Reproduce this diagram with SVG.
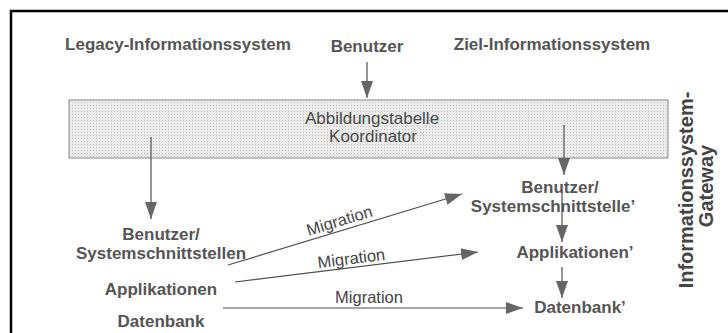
<svg xmlns="http://www.w3.org/2000/svg" width="728" height="333" viewBox="0 0 728 333">
<style>
.b{font-family:"Liberation Sans",Arial,sans-serif;font-weight:bold;font-size:17px;fill:#555;text-anchor:middle}
.n{font-family:"Liberation Sans",Arial,sans-serif;font-size:17px;fill:#4a4a4a;text-anchor:middle}
.m{font-family:"Liberation Sans",Arial,sans-serif;font-size:16.5px;fill:#444;text-anchor:middle}
.g{font-family:"Liberation Sans",Arial,sans-serif;font-weight:bold;font-size:20px;fill:#444;text-anchor:middle}
.c{stroke:#505050;stroke-width:1.2;fill:none;marker-end:url(#ah)}
</style>
<defs>
<marker id="ah" markerUnits="userSpaceOnUse" markerWidth="17" markerHeight="12" refX="17" refY="6" orient="auto">
<path d="M0,0 L17,6 L0,12 z" fill="#666"/>
</marker>
<pattern id="dots" width="3" height="3" patternUnits="userSpaceOnUse">
<rect width="3" height="3" fill="#ececec"/>
<rect width="1" height="1" fill="#c4c4c4"/>
</pattern>
</defs>
<rect width="728" height="333" fill="#fff"/>
<path d="M11,340 V11 H740" fill="none" stroke="#000" stroke-width="2.5"/>
<g id="legacy"><text class="b" x="178" y="50">Legacy-Informationssystem</text></g>
<g id="benutzer"><text class="b" x="367" y="52">Benutzer</text></g>
<g id="ziel"><text class="b" x="552" y="50">Ziel-Informationssystem</text></g>
<g id="abbildung">
<rect x="69" y="100" width="599" height="58" fill="url(#dots)" stroke="#888" stroke-width="1"/>
<text class="n" x="372" y="124">Abbildungstabelle</text>
<text class="n" x="373" y="142">Koordinator</text>
</g>
<g id="gateway">
<text class="g" transform="translate(693,190) rotate(-90)">Informationssystem-</text>
<text class="g" transform="translate(713,186) rotate(-90)">Gateway</text>
</g>
<g id="legacy-ui"><text class="b" x="161" y="240">Benutzer/</text><text class="b" x="161" y="259">Systemschnittstellen</text></g>
<g id="legacy-app"><text class="b" x="161" y="295">Applikationen</text></g>
<g id="legacy-db"><text class="b" x="161" y="327">Datenbank</text></g>
<g id="ziel-ui"><text class="b" x="560" y="193">Benutzer/</text><text class="b" x="553" y="212">Systemschnittstelle’</text></g>
<g id="ziel-app"><text class="b" x="575" y="258">Applikationen’</text></g>
<g id="ziel-db"><text class="b" x="580" y="313">Datenbank’</text></g>
<g id="connectors">
<line class="c" x1="367" y1="62" x2="367" y2="98"/>
<line class="c" x1="151" y1="137" x2="151" y2="219"/>
<line class="c" x1="564" y1="125" x2="564" y2="175"/>
<line class="c" x1="562" y1="192" x2="562" y2="242"/>
<line class="c" x1="562" y1="267" x2="562" y2="298"/>
<line class="c" x1="228" y1="265" x2="462" y2="194"/>
<line class="c" x1="235" y1="282" x2="478" y2="252"/>
<line class="c" x1="223" y1="308" x2="523" y2="308"/>
<text class="m" transform="translate(341,226) rotate(-17)">Migration</text>
<text class="m" transform="translate(352,264) rotate(-7)">Migration</text>
<text class="m" x="369" y="303">Migration</text>
</g>
</svg>
